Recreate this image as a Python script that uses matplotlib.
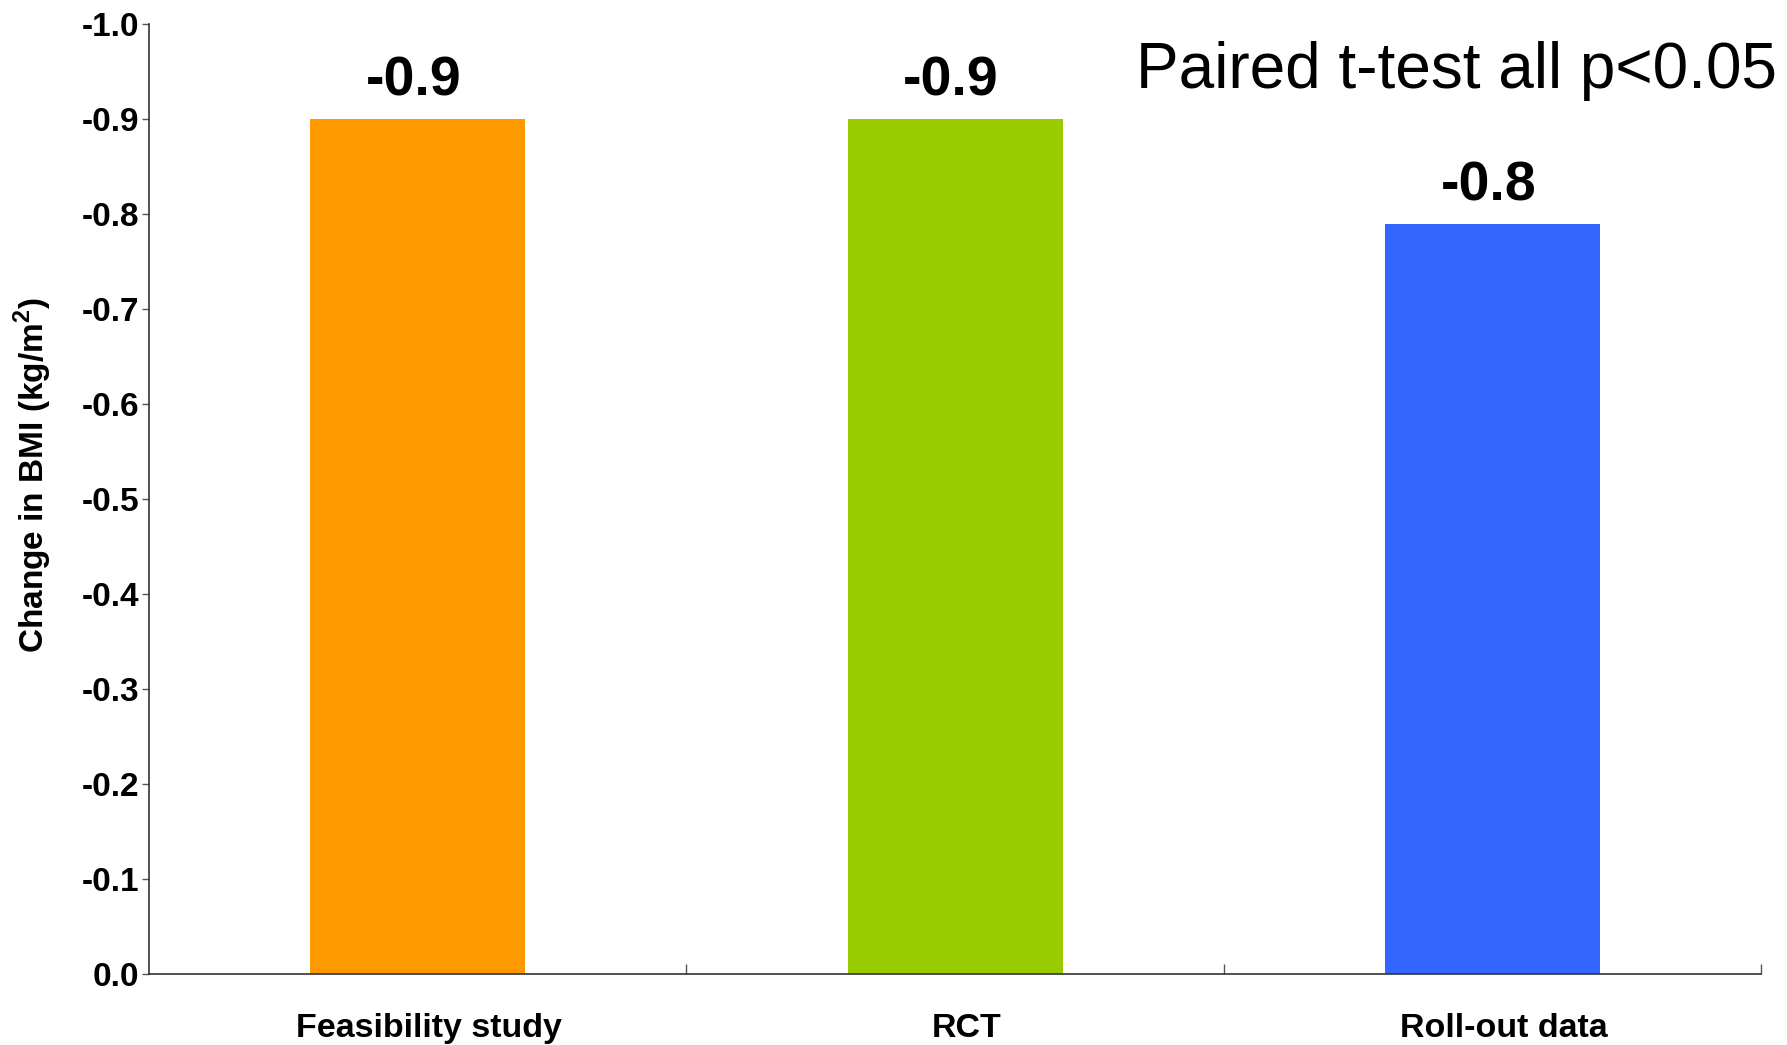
import matplotlib
matplotlib.use("Agg")
import matplotlib.pyplot as plt
from matplotlib.transforms import ScaledTranslation

plt.rcParams['font.family'] = ['Liberation Sans', 'DejaVu Sans']
plt.rcParams['mathtext.fontset'] = 'custom'
plt.rcParams['mathtext.bf'] = 'Liberation Sans:bold'
plt.rcParams['mathtext.rm'] = 'Liberation Sans:bold'

studies = ['Feasibility study', 'RCT', 'Roll-out data']
bmi_change = [-0.9, -0.9, -0.79]
bar_colors = ['#FF9900', '#99CC00', '#3366FF']
yticks = [0.0, -0.1, -0.2, -0.3, -0.4, -0.5, -0.6, -0.7, -0.8, -0.9, -1.0]

fig = plt.figure(figsize=(17.87, 10.45), dpi=100)
ax = fig.add_axes([0.0834, 0.0675, 0.9022, 0.9095])

x = list(range(len(studies)))
bars = ax.bar(x, bmi_change, width=0.4, color=bar_colors, zorder=2)

for xi, v in zip(x, bmi_change):
    ax.annotate(f'{v:.1f}', (xi, v), xytext=(-3, 8), textcoords='offset points',
                ha='center', va='bottom', fontsize=40, fontweight='bold')

ax.set_xlim(-0.5, len(studies) - 0.5)
ax.set_ylim(0.0, -1.0)
ax.set_yticks(yticks)
ax.set_yticklabels([f'{t:.1f}' if t != 0 else '0.0' for t in yticks],
                   fontsize=24, fontweight='bold')

# category labels sit between the boundary ticks
ax.set_xticks([0.5, 1.5, 2.5])
ax.set_xticklabels([])
ax.set_xticks(x, minor=True)
ax.set_xticklabels(studies, minor=True, fontsize=24.5, fontweight='bold')
ax.tick_params(axis='x', which='minor', length=0, pad=28)
ax.tick_params(axis='x', which='major', direction='in', length=7, width=1,
               color='#555555')
ax.tick_params(axis='y', direction='out', length=5, width=1, color='#555555',
               pad=2)
nudge = ScaledTranslation(8 / 72, 0, fig.dpi_scale_trans)
for lab in ax.get_xticklabels(minor=True):
    lab.set_transform(lab.get_transform() + nudge)

for side in ['top', 'right']:
    ax.spines[side].set_visible(False)
for side in ['left', 'bottom']:
    ax.spines[side].set_color('#333333')
    ax.spines[side].set_linewidth(1.2)

ax.set_ylabel(r'Change in BMI (kg/m$^{\mathbf{2}}$)', fontsize=24,
              fontweight='bold')
ax.yaxis.set_label_coords(-0.059, 0.525)

fig.text(0.9944, 0.916, 'Paired t-test all p<0.05', ha='right',
         va='baseline', fontsize=46)

fig.savefig('out.png', dpi=100)
